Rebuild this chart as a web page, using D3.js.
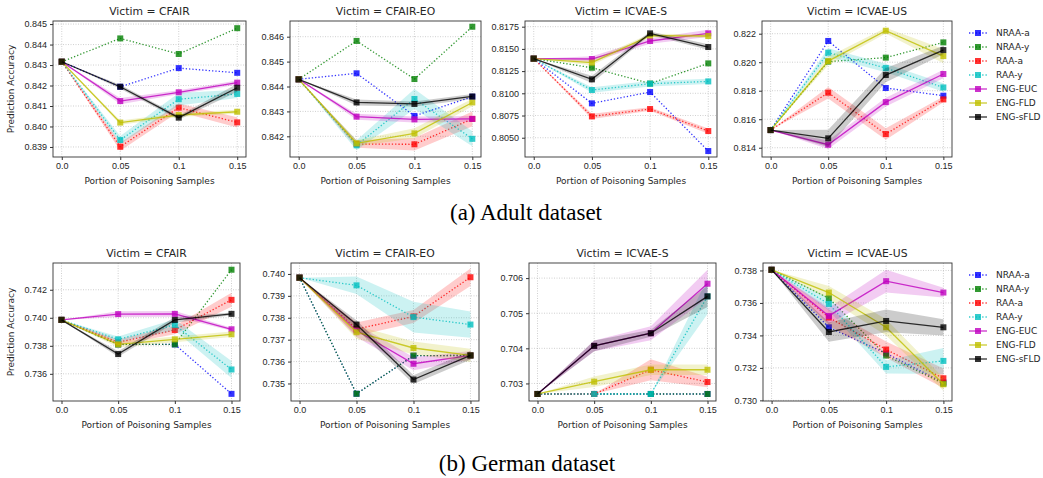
<!DOCTYPE html>
<html>
<head>
<meta charset="utf-8">
<script src="https://cdn.jsdelivr.net/npm/d3@7"></script>
<style>
  body { margin: 0; background: #fff; }
  svg { display: block; font-family: "DejaVu Sans", sans-serif; }
  .caption { font-family: "Liberation Serif", "Times New Roman", serif; }
</style>
</head>
<body>
<svg width="1043" height="478"></svg>
<script>
// x positions and labels shared by every panel
var xVals = [0, 0.05, 0.1, 0.15];
var xTickLabels = ["0.0", "0.05", "0.1", "0.15"];
var methods = ["NRAA-a", "NRAA-y", "RAA-a", "RAA-y", "ENG-EUC", "ENG-FLD", "ENG-sFLD"];
var colors = ["#0000ff", "#008000", "#ff0000", "#00bfbf", "#bf00bf", "#bfbf00", "#000000"];
var dotted = [true, true, true, true, false, false, false];

// Adult dataset (mean per method, then half width of the shaded band)
var adultCfairMean = [
  [0.84316, 0.84194, 0.84285, 0.84262],
  [0.84316, 0.84430, 0.84354, 0.84480],
  [0.84316, 0.83901, 0.84092, 0.84020],
  [0.84316, 0.83934, 0.84133, 0.84159],
  [0.84316, 0.84124, 0.84167, 0.84214],
  [0.84316, 0.84019, 0.84056, 0.84072],
  [0.84316, 0.84194, 0.84043, 0.84189]
];
var adultCfairBand = [null, null,
  [0, 0.0002, 0.0002, 0.00025],
  [0, 0.0002, 0.0003, 0.0002],
  [0, 0.00015, 0.0001, 0.0001],
  [0, 0.0001, 0.0001, 0.0001],
  [0, 0.0001, 0.0001, 0.0002]
];

var adultCfairEoMean = [
  [0.84429, 0.84453, 0.84282, 0.84359],
  [0.84429, 0.84583, 0.84430, 0.84640],
  [0.84429, 0.84169, 0.84168, 0.84270],
  [0.84429, 0.84164, 0.84350, 0.84190],
  [0.84429, 0.84279, 0.84268, 0.84270],
  [0.84429, 0.84172, 0.84212, 0.84336],
  [0.84429, 0.84336, 0.84330, 0.84360]
];
var adultCfairEoBand = [null, null,
  [0, 0.00015, 0.00025, 0.0003],
  [0, 0.0002, 0.0004, 0.0003],
  [0, 0.00012, 0.00012, 0.00012],
  [0, 0.00012, 0.0002, 0.00015],
  [0, 0.00012, 0.0001, 0.0001]
];

var adultIcvaeSMean = [
  [0.8139, 0.80887, 0.81014, 0.80350],
  [0.8139, 0.81288, 0.81110, 0.81337],
  [0.8139, 0.80740, 0.80823, 0.80575],
  [0.8139, 0.81037, 0.81108, 0.81134],
  [0.8139, 0.81386, 0.81589, 0.81675],
  [0.8139, 0.81345, 0.81650, 0.81645],
  [0.8139, 0.81157, 0.81675, 0.81521]
];
var adultIcvaeSBand = [null, null,
  [0, 0.0003, 0.0002, 0.0003],
  [0, 0.0003, 0.0003, 0.0003],
  [0, 0.0003, 0.0003, 0.0004],
  [0, 0.0003, 0.0002, 0.0002],
  [0, 0.0004, 0.0002, 0.0003]
];

var adultIcvaeUsMean = [
  [0.81524, 0.82149, 0.81819, 0.81765],
  [0.81524, 0.82004, 0.82032, 0.82139],
  [0.81524, 0.81786, 0.81496, 0.81739],
  [0.81524, 0.82067, 0.81959, 0.81823],
  [0.81524, 0.81421, 0.81720, 0.81917],
  [0.81524, 0.82008, 0.82221, 0.82043],
  [0.81524, 0.81466, 0.81910, 0.82085]
];
var adultIcvaeUsBand = [null, null,
  [0, 0.0004, 0.0004, 0.0002],
  [0, 0.0003, 0.0003, 0.0003],
  [0, 0.0003, 0.0003, 0.0003],
  [0, 0.0003, 0.0002, 0.0005],
  [0, 0.0006, 0.0005, 0.0003]
];

// German dataset
var germanCfairMean = [
  [0.73985, 0.73810, 0.73810, 0.73457],
  [0.73985, 0.73810, 0.73810, 0.74343],
  [0.73985, 0.73825, 0.73913, 0.74128],
  [0.73985, 0.73846, 0.73949, 0.73631],
  [0.73985, 0.74026, 0.74028, 0.73918],
  [0.73985, 0.73810, 0.73846, 0.73882],
  [0.73985, 0.73741, 0.73985, 0.74028]
];
var germanCfairBand = [null, null,
  [0, 0.0002, 0.0003, 0.0005],
  [0, 0.0002, 0.0004, 0.0006],
  [0, 0.0002, 0.0002, 0.0001],
  [0, 0.0002, 0.0002, 0.0002],
  [0, 0.0002, 0.0002, 0.0001]
];

var germanCfairEoMean = [
  [0.73983, 0.73453, 0.73627, 0.73628],
  [0.73983, 0.73453, 0.73627, 0.73628],
  [0.73983, 0.73748, 0.73806, 0.73985],
  [0.73983, 0.73948, 0.73803, 0.73769],
  [0.73983, 0.73742, 0.73590, 0.73628],
  [0.73983, 0.73734, 0.73662, 0.73628],
  [0.73983, 0.73769, 0.73518, 0.73628]
];
var germanCfairEoBand = [null, null,
  [0, 0.0003, 0.0003, 0.0004],
  [0, 0.0004, 0.0007, 0.0006],
  [0, 0.0003, 0.0003, 0.0002],
  [0, 0.0003, 0.0003, 0.0003],
  [0, 0.0002, 0.0002, 0.0002]
];

var germanIcvaeSMean = [
  [0.7027, 0.7027, 0.7027, 0.7027],
  [0.7027, 0.7027, 0.7027, 0.7027],
  [0.7027, 0.7027, 0.70339, 0.70304],
  [0.7027, 0.7027, 0.7027, 0.70548],
  [0.7027, 0.70407, 0.70443, 0.70584],
  [0.7027, 0.70305, 0.70339, 0.70339],
  [0.7027, 0.70407, 0.70443, 0.70548]
];
var germanIcvaeSBand = [null, null,
  [0, 0, 0.0003, 0.00015],
  [0, 0, 0, 0.0005],
  [0, 0.00015, 0.0002, 0.0004],
  [0, 0.00015, 0.00015, 0.00015],
  [0, 0.00015, 0.0001, 0.0003]
];

var germanIcvaeUsMean = [
  [0.73804, 0.73450, 0.73289, 0.73110],
  [0.73804, 0.73629, 0.73276, 0.73103],
  [0.73804, 0.73510, 0.73313, 0.73136],
  [0.73804, 0.73594, 0.73206, 0.73243],
  [0.73804, 0.73520, 0.73734, 0.73664],
  [0.73804, 0.73664, 0.73450, 0.73099],
  [0.73804, 0.73421, 0.73489, 0.73450]
];
var germanIcvaeUsBand = [null, null,
  [0, 0.0005, 0.0005, 0.0006],
  [0, 0.0004, 0.0004, 0.0008],
  [0, 0.0005, 0.0007, 0.0003],
  [0, 0.0004, 0.0005, 0.0004],
  [0, 0.0006, 0.0007, 0.0005]
];

// y tick values
var adultCfairTicks = [0.839, 0.840, 0.841, 0.842, 0.843, 0.844, 0.845];
var adultCfairEoTicks = [0.842, 0.843, 0.844, 0.845, 0.846];
var adultIcvaeSTicks = [0.8050, 0.8075, 0.8100, 0.8125, 0.8150, 0.8175];
var adultIcvaeUsTicks = [0.814, 0.816, 0.818, 0.820, 0.822];
var germanCfairTicks = [0.736, 0.738, 0.740, 0.742];
var germanCfairEoTicks = [0.735, 0.736, 0.737, 0.738, 0.739, 0.740];
var germanIcvaeSTicks = [0.703, 0.704, 0.705, 0.706];
var germanIcvaeUsTicks = [0.730, 0.732, 0.734, 0.736, 0.738];

var panels = [
  {title: "Victim = CFAIR", mean: adultCfairMean, band: adultCfairBand, ticks: adultCfairTicks, fmt: ".3f",
   box: [53, 21, 246, 157], ydom: [0.83851, 0.84515], ylabel: true},
  {title: "Victim = CFAIR-EO", mean: adultCfairEoMean, band: adultCfairEoBand, ticks: adultCfairEoTicks, fmt: ".3f",
   box: [290, 21, 481, 157], ydom: [0.84117, 0.84663]},
  {title: "Victim = ICVAE-S", mean: adultIcvaeSMean, band: adultIcvaeSBand, ticks: adultIcvaeSTicks, fmt: ".4f",
   box: [525, 21, 717, 157], ydom: [0.80283, 0.81814]},
  {title: "Victim = ICVAE-US", mean: adultIcvaeUsMean, band: adultIcvaeUsBand, ticks: adultIcvaeUsTicks, fmt: ".3f",
   box: [762, 21, 952, 157], ydom: [0.81335, 0.82289], legend: true},
  {title: "Victim = CFAIR", mean: germanCfairMean, band: germanCfairBand, ticks: germanCfairTicks, fmt: ".3f",
   box: [53, 263, 240, 401], ydom: [0.73406, 0.74391], ylabel: true},
  {title: "Victim = CFAIR-EO", mean: germanCfairEoMean, band: germanCfairEoBand, ticks: germanCfairEoTicks, fmt: ".3f",
   box: [291, 263, 479, 401], ydom: [0.73420, 0.74050]},
  {title: "Victim = ICVAE-S", mean: germanIcvaeSMean, band: germanIcvaeSBand, ticks: germanIcvaeSTicks, fmt: ".3f",
   box: [529, 263, 716, 401], ydom: [0.70250, 0.70643]},
  {title: "Victim = ICVAE-US", mean: germanIcvaeUsMean, band: germanIcvaeUsBand, ticks: germanIcvaeUsTicks, fmt: ".3f",
   box: [763, 263, 952, 401], ydom: [0.72996, 0.73846], legend: true}
];

var svg = d3.select("svg");
var textCol = "#262626";

panels.forEach(function(p, pi) {
  var x0 = p.box[0], y0 = p.box[1], x1 = p.box[2], y1 = p.box[3];
  var xScale = d3.scaleLinear().domain([-0.0075, 0.1575]).range([x0, x1]);
  var yScale = d3.scaleLinear().domain(p.ydom).range([y1, y0]);
  var g = svg.append("g");

  // grid
  g.selectAll(".gx").data(xVals).enter().append("line")
    .attr("x1", function(d) { return xScale(d); }).attr("x2", function(d) { return xScale(d); })
    .attr("y1", y0).attr("y2", y1)
    .attr("stroke", "#b0b0b0").attr("stroke-width", 0.6).attr("stroke-dasharray", "1,1.5");
  g.selectAll(".gy").data(p.ticks).enter().append("line")
    .attr("y1", function(d) { return yScale(d); }).attr("y2", function(d) { return yScale(d); })
    .attr("x1", x0).attr("x2", x1)
    .attr("stroke", "#b0b0b0").attr("stroke-width", 0.6).attr("stroke-dasharray", "1,1.5");

  // axes
  var xAxis = d3.axisBottom(xScale).tickValues(xVals).tickSize(3).tickPadding(3)
    .tickFormat(function(d, i) { return xTickLabels[i]; });
  var yAxis = d3.axisLeft(yScale).tickValues(p.ticks).tickSize(3).tickPadding(3)
    .tickFormat(d3.format(p.fmt));
  var gx = g.append("g").attr("transform", "translate(0," + y1 + ")").call(xAxis);
  var gy = g.append("g").attr("transform", "translate(" + x0 + ",0)").call(yAxis);
  [gx, gy].forEach(function(a) {
    a.select(".domain").remove();
    a.selectAll("line").attr("stroke", "#333");
    a.selectAll("text").attr("fill", textCol).style("font-size", "9px");
  });

  var clipId = "clip" + pi;
  g.append("clipPath").attr("id", clipId).append("rect")
    .attr("x", x0).attr("y", y0).attr("width", x1 - x0).attr("height", y1 - y0);
  var plot = g.append("g").attr("clip-path", "url(#" + clipId + ")");

  var line = d3.line().x(function(d, i) { return xScale(xVals[i]); }).y(function(d) { return yScale(d); });

  methods.forEach(function(m, si) {
    var vals = p.mean[si];
    var band = p.band[si];
    if (band) {
      var area = d3.area()
        .x(function(d, i) { return xScale(xVals[i]); })
        .y0(function(d, i) { return yScale(d - band[i]); })
        .y1(function(d, i) { return yScale(d + band[i]); });
      plot.append("path").datum(vals).attr("d", area)
        .attr("fill", colors[si]).attr("fill-opacity", 0.2);
    }
    plot.append("path").datum(vals).attr("d", line)
      .attr("fill", "none").attr("stroke", colors[si]).attr("stroke-opacity", 0.8)
      .attr("stroke-width", 1.3)
      .attr("stroke-dasharray", dotted[si] ? "1.3,2" : null);
    plot.selectAll(".mk" + si).data(vals).enter().append("rect")
      .attr("x", function(d, i) { return xScale(xVals[i]) - 3; })
      .attr("y", function(d) { return yScale(d) - 3; })
      .attr("width", 6).attr("height", 6)
      .attr("fill", colors[si]).attr("fill-opacity", 0.8);
  });

  // frame
  g.append("rect").attr("x", x0).attr("y", y0).attr("width", x1 - x0).attr("height", y1 - y0)
    .attr("fill", "none").attr("stroke", "#333").attr("stroke-width", 0.9);

  g.append("text").attr("x", (x0 + x1) / 2).attr("y", y0 - 6)
    .attr("text-anchor", "middle").attr("fill", textCol).style("font-size", "10.8px").text(p.title);
  g.append("text").attr("x", (x0 + x1) / 2).attr("y", y1 + 27)
    .attr("text-anchor", "middle").attr("fill", textCol).style("font-size", "9px")
    .text("Portion of Poisoning Samples");
  if (p.ylabel) {
    g.append("text").attr("transform", "translate(14," + ((y0 + y1) / 2) + ") rotate(-90)")
      .attr("text-anchor", "middle").attr("fill", textCol).style("font-size", "9px")
      .text("Prediction Accuracy");
  }

  if (p.legend) {
    var lg = g.append("g").attr("transform", "translate(969," + (y0 + 12) + ")");
    methods.forEach(function(m, si) {
      var row = lg.append("g").attr("transform", "translate(0," + (si * 14) + ")");
      row.append("line").attr("x1", 0).attr("x2", 18).attr("y1", 0).attr("y2", 0)
        .attr("stroke", colors[si]).attr("stroke-opacity", 0.8).attr("stroke-width", 1.3)
        .attr("stroke-dasharray", dotted[si] ? "1.3,2" : null);
      row.append("rect").attr("x", 6).attr("y", -3).attr("width", 6).attr("height", 6)
        .attr("fill", colors[si]).attr("fill-opacity", 0.8);
      row.append("text").attr("x", 27).attr("y", 3.3).attr("fill", textCol)
        .style("font-size", "9px").text(m);
    });
  }
});

svg.append("text").attr("class", "caption").attr("x", 526).attr("y", 220)
  .attr("text-anchor", "middle").style("font-size", "23px").attr("fill", "#000").text("(a) Adult dataset");
svg.append("text").attr("class", "caption").attr("x", 527).attr("y", 471)
  .attr("text-anchor", "middle").style("font-size", "23px").attr("fill", "#000").text("(b) German dataset");
</script>
</body>
</html>
